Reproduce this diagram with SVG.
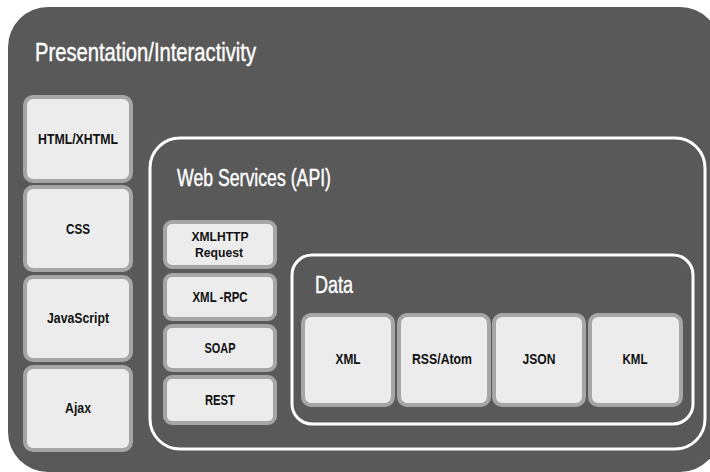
<svg xmlns="http://www.w3.org/2000/svg" width="710" height="472" viewBox="0 0 710 472">
  <style>
    .layer { fill: #595959; }
    .frame { fill: none; stroke: #ffffff; stroke-width: 3; }
    .title { font-family: "Liberation Sans", Arial, sans-serif; fill: #ffffff; stroke: #ffffff; stroke-width: 0.4; }
    .box { fill: #ececec; stroke: #a6a6a6; stroke-width: 4; }
    .label { font-family: "Liberation Sans", Arial, sans-serif; font-weight: bold; font-size: 15px; fill: #111111; text-anchor: middle; }
    .label.two { font-size: 13px; }
  </style>

  <rect width="710" height="472" fill="#ffffff"/>

  <!-- Presentation layer -->
  <g id="presentation">
    <rect class="layer" x="8" y="7" width="712" height="465" rx="40"/>
    <text class="title" x="35" y="61" font-size="25" textLength="221" lengthAdjust="spacingAndGlyphs">Presentation/Interactivity</text>
  </g>

  <g id="html">
    <rect class="box" x="25" y="97" width="106" height="84" rx="8"/>
    <text class="label" x="78" y="144" textLength="80" lengthAdjust="spacingAndGlyphs">HTML/XHTML</text>
  </g>
  <g id="css">
    <rect class="box" x="25" y="187" width="106" height="83" rx="8"/>
    <text class="label" x="78" y="234" textLength="24" lengthAdjust="spacingAndGlyphs">CSS</text>
  </g>
  <g id="javascript">
    <rect class="box" x="25" y="277" width="106" height="83" rx="8"/>
    <text class="label" x="78" y="323" textLength="62" lengthAdjust="spacingAndGlyphs">JavaScript</text>
  </g>
  <g id="ajax">
    <rect class="box" x="25" y="367" width="106" height="83" rx="8"/>
    <text class="label" x="78" y="413" textLength="26" lengthAdjust="spacingAndGlyphs">Ajax</text>
  </g>

  <!-- Web services layer -->
  <g id="web-services">
    <rect class="frame" x="150" y="138" width="555" height="311" rx="30"/>
    <text class="title" x="177" y="186" font-size="23" textLength="154" lengthAdjust="spacingAndGlyphs">Web Services (API)</text>
  </g>

  <g id="xmlhttp">
    <rect class="box" x="165" y="222" width="110" height="45" rx="7"/>
    <text class="label two" x="220" y="241" textLength="57" lengthAdjust="spacingAndGlyphs">XMLHTTP</text>
    <text class="label two" x="219" y="257" textLength="48" lengthAdjust="spacingAndGlyphs">Request</text>
  </g>
  <g id="xml-rpc">
    <rect class="box" x="165" y="275" width="110" height="44" rx="7"/>
    <text class="label" x="220" y="302" textLength="55" lengthAdjust="spacingAndGlyphs">XML -RPC</text>
  </g>
  <g id="soap">
    <rect class="box" x="165" y="326" width="110" height="44" rx="7"/>
    <text class="label" x="220" y="353" textLength="31" lengthAdjust="spacingAndGlyphs">SOAP</text>
  </g>
  <g id="rest">
    <rect class="box" x="165" y="377" width="110" height="46" rx="7"/>
    <text class="label" x="220" y="405" textLength="30" lengthAdjust="spacingAndGlyphs">REST</text>
  </g>

  <!-- Data layer -->
  <g id="data">
    <rect class="frame" x="292" y="255" width="401" height="169" rx="20"/>
    <text class="title" x="315" y="293" font-size="23" textLength="38" lengthAdjust="spacingAndGlyphs">Data</text>
  </g>

  <g id="xml">
    <rect class="box" x="303" y="315" width="90" height="90" rx="8"/>
    <text class="label" x="348" y="364" textLength="25" lengthAdjust="spacingAndGlyphs">XML</text>
  </g>
  <g id="rss-atom">
    <rect class="box" x="399" y="315" width="90" height="90" rx="8"/>
    <text class="label" x="442" y="364" textLength="60" lengthAdjust="spacingAndGlyphs">RSS/Atom</text>
  </g>
  <g id="json">
    <rect class="box" x="494" y="315" width="90" height="90" rx="8"/>
    <text class="label" x="539" y="364" textLength="33" lengthAdjust="spacingAndGlyphs">JSON</text>
  </g>
  <g id="kml">
    <rect class="box" x="590" y="315" width="91" height="90" rx="8"/>
    <text class="label" x="635" y="364" textLength="25" lengthAdjust="spacingAndGlyphs">KML</text>
  </g>

  <!-- no connectors between layers -->
  <g id="connectors"/>
</svg>
